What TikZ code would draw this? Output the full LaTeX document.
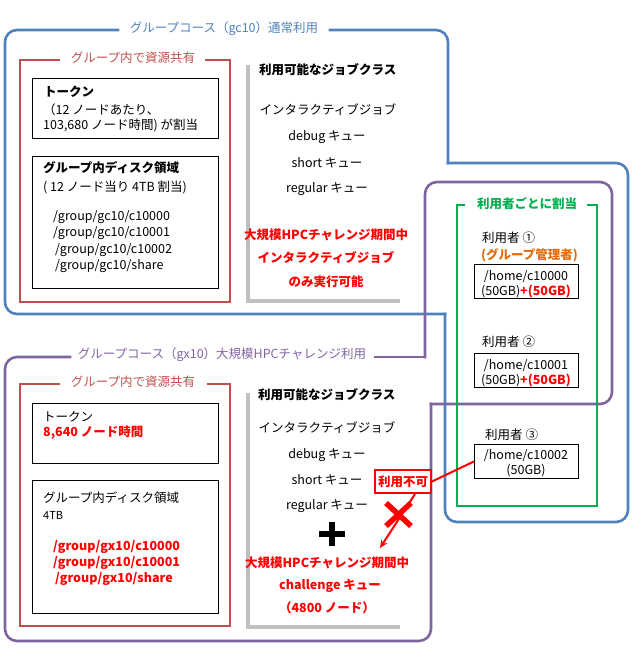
\documentclass[tikz,border=0pt]{standalone}
\usepackage{fontspec}
\setmainfont{Noto Sans CJK JP}
\usetikzlibrary{arrows.meta,calc}
\definecolor{cblue}{HTML}{4F81BD}
\definecolor{cred}{HTML}{C0504D}
\definecolor{cpurple}{HTML}{8064A2}
\definecolor{cgreen}{HTML}{00B050}
\definecolor{cgray}{HTML}{BFBFBF}
\definecolor{corange}{HTML}{E46C0A}
\definecolor{tred}{HTML}{FF0000}
\begin{document}
\begin{tikzpicture}[x=1pt,y=-1pt,
  every node/.style={inner sep=0pt, font=\fontsize{12.5}{14}\selectfont},
  bf/.style={font=\fontsize{12.5}{14}\selectfont\bfseries},
  sm/.style={font=\fontsize{11}{12}\selectfont},
  lt/.style={anchor=west},
  grp/.style={line width=2.6pt, rounded corners=12pt, line cap=rect},
  sect/.style={line width=2.6pt, draw=cred},
  grayline/.style={line width=4pt, draw=cgray},
  bbox/.style={draw=black, line width=0.9pt, minimum width=186pt, anchor=north west},
  ubox/.style={draw=black, line width=0.9pt, minimum width=104pt, minimum height=34pt, anchor=north west},
  redtxt/.style={bf, text=tred}]
\useasboundingbox (0,0) rectangle (634,666);

% ---------- blue group (gc10)
\draw[grp, cblue] (448,163) -- (628,163) -- (628,522) -- (445,522) -- (445,314);
\draw[grp, cblue] (445,314) -- (5,314) -- (5,30) -- (118,30);
\draw[grp, cblue] (330,30) -- (448,30) -- (448,163);
\node[text=cblue] (tgc) at (224,29) {グループコース（gc10）通常利用};

% ---------- purple group (gx10)
\draw[grp, cpurple] (375,357) -- (425,357);
\draw[grp, cpurple] (425,357) -- (425,182) -- (612,182) -- (612,404) -- (431,404);
\draw[grp, cpurple] (431,404) -- (431,641) -- (5,641) -- (5,357) -- (70,357);
\node[text=cpurple] (tgx) at (222,355) {グループコース（gx10）大規模HPCチャレンジ利用};

% ---------- green per-user box
\draw[line width=2.6pt, cgreen] (465,205) -- (457,205) -- (457,506) -- (597,506) -- (597,205) -- (587,205);
\node[bf, text=cgreen] (tuser) at (527,204) {利用者ごとに割当};

% ---------- top section: shared resources
\draw[sect] (60,60) -- (20,60) -- (20,302) -- (230,302) -- (230,60) -- (205,60);
\node[text=cred] (tsh1) at (133,58) {グループ内で資源共有};
\node[bbox, minimum height=60pt] (tok1) at (32,78) {};
\node[lt, bf] (tok1a) at (44,92) {トークン};
\node[lt] (tok1b) at (43,110) {（12 ノードあたり、};
\node[lt] (tok1c) at (43,125) {103,680 ノード時間) が割当};
\node[bbox, minimum height=132pt] (dsk1) at (32,156) {};
\node[lt, bf] (dsk1a) at (43,168) {グループ内ディスク領域};
\node[lt] (dsk1b) at (43,187) {( 12 ノード当り 4TB 割当)};
\node[lt] (p1a) at (53,217) {/group/gc10/c10000};
\node[lt] (p1b) at (53,233) {/group/gc10/c10001};
\node[lt] (p1c) at (55,250) {/group/gc10/c10002};
\node[lt] (p1d) at (55,266) {/group/gc10/share};

% top job classes
\draw[grayline] (248,65) -- (248,301) -- (400,301);
\node[lt, bf] (jc1) at (259,70) {利用可能なジョブクラス};
\node (j1a) at (328,110) {インタラクティブジョブ};
\node (j1b) at (327,137) {debug キュー};
\node (j1c) at (327,163) {short キュー};
\node (j1d) at (327,189) {regular キュー};
\node[redtxt] (j1e) at (326,235) {大規模HPCチャレンジ期間中};
\node[redtxt] (j1f) at (326,258) {インタラクティブジョブ};
\node[redtxt] (j1g) at (326,282) {のみ実行可能};

% ---------- bottom section: shared resources
\draw[sect] (60,384) -- (20,384) -- (20,626) -- (230,626) -- (230,384) -- (207,384);
\node[text=cred] (tsh2) at (133,382) {グループ内で資源共有};
\node[bbox, minimum height=60pt] (tok2) at (32,403) {};
\node[lt] (tok2a) at (43,417) {トークン};
\node[lt, redtxt] (tok2b) at (43,433) {8,640 ノード時間};
\node[bbox, minimum height=133pt] (dsk2) at (32,480) {};
\node[lt] (dsk2a) at (43,498) {グループ内ディスク領域};
\node[lt, sm] (dsk2b) at (43,515) {4TB};
\node[lt, redtxt] (p2a) at (53,547) {/group/gx10/c10000};
\node[lt, redtxt] (p2b) at (53,563) {/group/gx10/c10001};
\node[lt, redtxt] (p2c) at (55,579) {/group/gx10/share};

% bottom job classes
\draw[grayline] (248,393) -- (248,627) -- (400,627);
\node[lt, bf] (jc2) at (258,395) {利用可能なジョブクラス};
\node (j2a) at (327,428) {インタラクティブジョブ};
\node (j2b) at (327,455) {debug キュー};
\node (j2c) at (327,480) {short キュー};
\node (j2d) at (327,506) {regular キュー};
\draw[line width=6pt] (319,534) -- (345,534) (332,522) -- (332,546);
\node[redtxt] (j2e) at (327,563) {大規模HPCチャレンジ期間中};
\node[redtxt] (j2f) at (330,586) {challenge キュー};
\node[redtxt] (j2g) at (327,608) {（4800 ノード）};

% ---------- users
\node[lt] (us1) at (482,238) {利用者 ①};
\node[lt, bf, text=corange] (us1b) at (481,255) {(グループ管理者)};
\node[ubox] (u1) at (474,264) {};
\node (u1a) at (526,277) {/home/c10000};
\node (u1b) at (526,292) {(50GB){\bfseries\color{tred}+(50GB)}};
\node[lt] (us2) at (482,342) {利用者 ②};
\node[ubox] (u2) at (474,353) {};
\node (u2a) at (526,366) {/home/c10001};
\node (u2b) at (526,381) {(50GB){\bfseries\color{tred}+(50GB)}};
\node[lt] (us3) at (485,435) {利用者 ③};
\node[ubox] (u3) at (474,444) {};
\node (u3a) at (526,456) {/home/c10002};
\node (u3b) at (526,471) {(50GB)};

% ---------- not-available marker
\node[draw=tred, line width=2pt, fill=white, minimum width=56pt, minimum height=23pt, redtxt] (na) at (403,481.5) {利用不可};
\draw[tred, line width=2pt] (na.east) -- (u3.west);
\coordinate (ae) at (380,548);
\draw[tred, line width=2pt, -{Stealth[length=8pt,width=7pt]}] ($(na.south)+(12,0)$) -- (ae);
\draw[tred, line width=5.5pt] (386,503) -- (411,526) (386,526) -- (411,503);
\end{tikzpicture}
\end{document}
